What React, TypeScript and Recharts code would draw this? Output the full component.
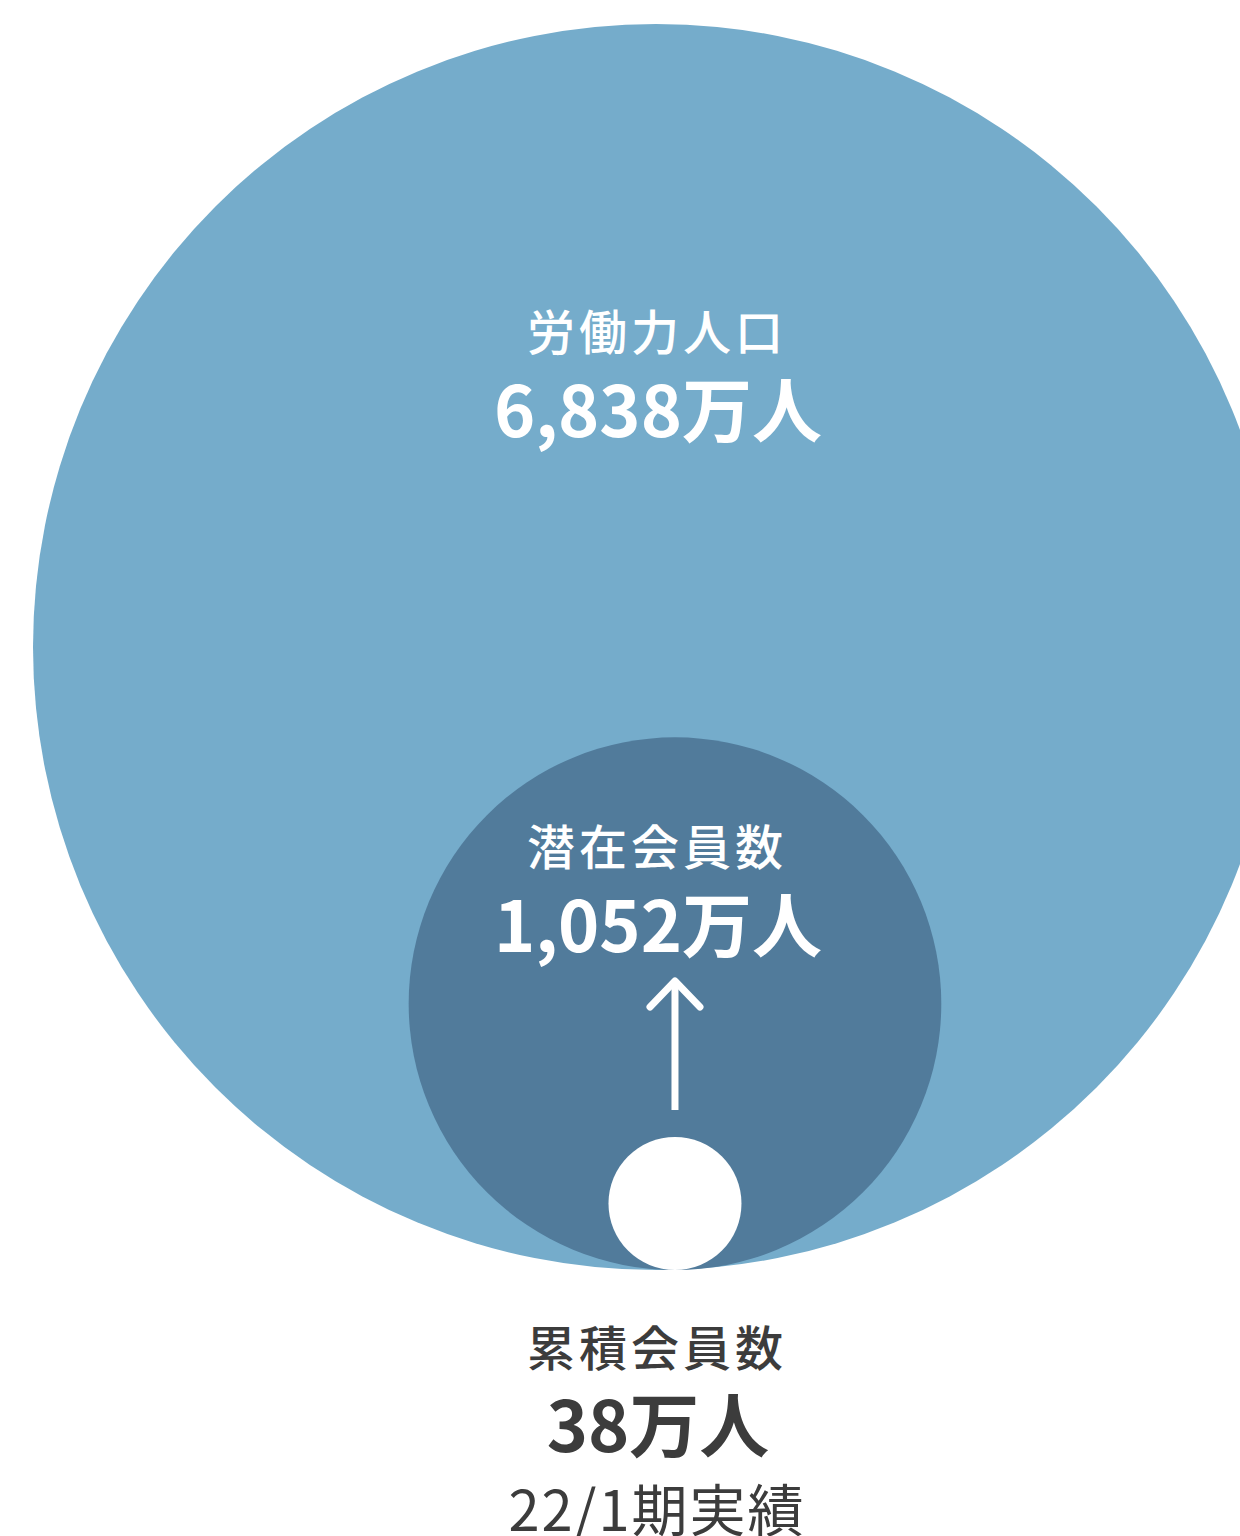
import React from 'react';
import { ScatterChart, Scatter, XAxis, YAxis, ZAxis } from 'recharts';

// ---- data ----
const names = ['労働力人口', '潜在会員数', '累積会員数'];
const values = [6838, 1052, 38]; // 単位: 万人
const unit = '万人';
const note = '22/1期実績';

// ---- styling / layout (not data) ----
const CIRCLE_COLORS = ['#75accb', '#517b9b', '#ffffff'];
const TEXT_COLORS = ['#ffffff', '#ffffff', '#3c3c3c'];
const X_SHIFT = [0, 3.25, 3.25]; // horizontal placement in x-axis units
const FONT = "'Noto Sans CJK JP', 'Noto Sans', sans-serif";

const W = 1240;
const H = 1536;
const MARGIN = { top: 0, right: 0, bottom: 266, left: 72 };

const chartData = names.map((name, i) => ({ name, value: values[i], x: X_SHIFT[i], y: 0 }));
const labelData = names.map((name, i) => ({ name, value: values[i], x: 0, y: 0 }));

const fmt = (v: number) => v.toLocaleString('en-US') + unit;

// d3-like power scale (radius grows with value^exp)
function powScale(exp: number, d: number[] = [0, 1], r: number[] = [0, 1]): any {
  let dom = d.slice();
  let rng = r.slice();
  const f = (v: number) => Math.pow(Math.max(v, 0), exp);
  const s: any = (v: number) =>
    rng[0] + ((f(Number(v)) - f(dom[0])) / (f(dom[1]) - f(dom[0]))) * (rng[1] - rng[0]);
  s.domain = (nd?: any[]) => {
    if (nd === undefined) return dom.slice();
    dom = nd.map(Number);
    return s;
  };
  s.range = (nr?: any[]) => {
    if (nr === undefined) return rng.slice();
    rng = nr.map(Number);
    return s;
  };
  s.copy = () => powScale(exp, dom, rng);
  s.ticks = () => dom.slice();
  s.nice = () => s;
  s.clamp = () => s;
  return s;
}

const CircleShape = (props: any) => {
  const { cx, cy, size, payload } = props;
  const idx = names.indexOf(payload?.name);
  const r = size;
  return (
    <g>
      <circle cx={cx} cy={cy - r} r={r} fill={CIRCLE_COLORS[idx]} />
      {idx === 2 && (
        <g stroke="#ffffff" strokeWidth={7} fill="none">
          <line x1={cx} y1={cy - 160} x2={cx} y2={cy - 287} strokeLinecap="butt" />
          <polyline
            points={`${cx - 25},${cy - 263} ${cx},${cy - 289} ${cx + 25},${cy - 263}`}
            strokeLinecap="round"
            strokeLinejoin="round"
          />
        </g>
      )}
    </g>
  );
};

// text offsets relative to the shared baseline of the circles
const LABEL_DY = [-920, -405, 96];
const VALUE_DY = [-833, -318, 182];
const NOTE_DY = 261;

const LabelShape = (props: any) => {
  const { cx, cy, payload } = props;
  const i = names.indexOf(payload?.name);
  return (
    <g fontFamily={FONT} textAnchor="middle" fill={TEXT_COLORS[i]}>
      <text x={cx + 1} y={cy + LABEL_DY[i]} fontSize={48} fontWeight={500} letterSpacing={4}>
        {payload.name}
      </text>
      <text x={cx + 2} y={cy + VALUE_DY[i]} fontSize={70} fontWeight={600}>
        {fmt(payload.value)}
      </text>
      {i === 2 && (
        <text x={cx + 1} y={cy + NOTE_DY} fontSize={56} fontWeight={400} letterSpacing={2}>
          {note}
        </text>
      )}
    </g>
  );
};

export default function App() {
  return (
    <div style={{ position: 'absolute', left: 0, top: 0, width: W, height: H, background: '#ffffff' }}>
      <ScatterChart width={W} height={H} margin={MARGIN}>
        <XAxis type="number" dataKey="x" domain={[-100, 100]} hide />
        <YAxis type="number" dataKey="y" domain={[0, 100]} hide />
        <ZAxis type="number" dataKey="value" domain={[38, 6838]} range={[66.5, 623]} scale={powScale(0.47)} />
        <Scatter name="circles" data={chartData} shape={CircleShape} isAnimationActive={false} />
        <Scatter name="labels" data={labelData} shape={LabelShape} isAnimationActive={false} />
      </ScatterChart>
    </div>
  );
}
